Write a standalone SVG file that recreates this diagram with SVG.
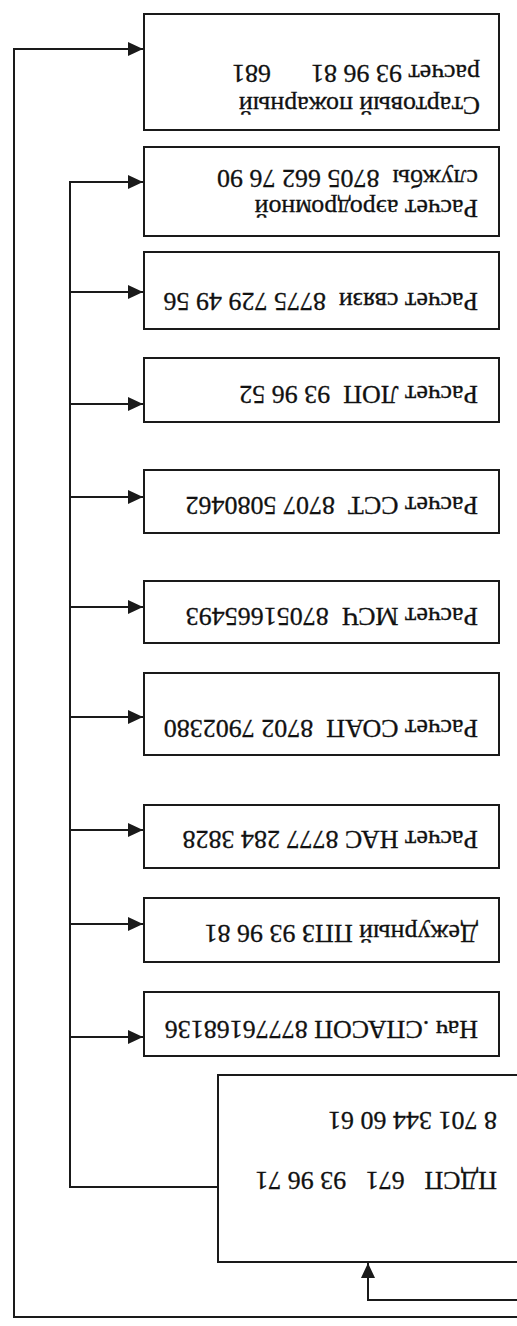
<svg xmlns="http://www.w3.org/2000/svg" width="517" height="1326" viewBox="0 0 517 1326" xml:space="preserve">
<style>
.box{fill:#fff;stroke:#1a1a1a;stroke-width:2}
.ln{fill:none;stroke:#1a1a1a;stroke-width:2}
.arr{fill:none;stroke:#1a1a1a;stroke-width:2;marker-end:url(#ah)}
.t{font-family:"Liberation Serif","Times New Roman",serif;font-size:26px;fill:#111;stroke:#111;stroke-width:0.3;white-space:pre}
</style>
<defs>
<marker id="ah" markerWidth="16" markerHeight="14" refX="15" refY="7" orient="auto" markerUnits="userSpaceOnUse">
<path d="M0,0 L15,7 L0,14 Z" fill="#1a1a1a"/>
</marker>
</defs>
<rect width="517" height="1326" fill="#fff"/>
<g id="connectors">
<polyline class="arr" points="517,1317 14,1317 14,49 143,49"/>
<polyline class="arr" points="517,1300 368,1300 368,1263"/>
<polyline class="arr" points="218,1187 70,1187 70,182 143,182"/>
<line class="arr" x1="70" y1="292" x2="143" y2="292"/>
<line class="arr" x1="70" y1="404" x2="143" y2="404"/>
<line class="arr" x1="70" y1="497" x2="143" y2="497"/>
<line class="arr" x1="70" y1="607" x2="143" y2="607"/>
<line class="arr" x1="70" y1="717" x2="143" y2="717"/>
<line class="arr" x1="70" y1="830" x2="143" y2="830"/>
<line class="arr" x1="70" y1="924" x2="143" y2="924"/>
<line class="arr" x1="70" y1="1037" x2="143" y2="1037"/>
</g>
<g id="n1">
<rect class="box" x="144" y="14" width="355" height="116"/>
<text class="t" transform="rotate(180 480 97)"><tspan x="480" y="97">Стартовый пожарный</tspan><tspan x="480" y="129">расчет 93 96 81</tspan><tspan x="689" y="129">681</tspan></text>
</g>
<g id="n2">
<rect class="box" x="144" y="147" width="355" height="89"/>
<text class="t" transform="rotate(180 478 200)"><tspan x="478" y="200">Расчет аэродромной</tspan><tspan x="478" y="230">службы  8705 662 76 90</tspan></text>
</g>
<g id="n3">
<rect class="box" x="144" y="252" width="355" height="77"/>
<text class="t" transform="rotate(180 478 293)" x="478" y="293">Расчет связи  8775 729 49 56</text>
</g>
<g id="n4">
<rect class="box" x="144" y="358" width="355" height="64"/>
<text class="t" transform="rotate(180 478 386)" x="478" y="386">Расчет ЛОП  93 96 52</text>
</g>
<g id="n5">
<rect class="box" x="144" y="470" width="355" height="63"/>
<text class="t" transform="rotate(180 478 497)" x="478" y="497">Расчет ССТ  8707 5080462</text>
</g>
<g id="n6">
<rect class="box" x="144" y="581" width="355" height="62"/>
<text class="t" transform="rotate(180 478 608)" x="478" y="608">Расчет МСЧ  87051665493</text>
</g>
<g id="n7">
<rect class="box" x="144" y="673" width="355" height="82"/>
<text class="t" transform="rotate(180 478 720)" x="478" y="720">Расчет СОАП  8702 7902380</text>
</g>
<g id="n8">
<rect class="box" x="144" y="805" width="355" height="63"/>
<text class="t" transform="rotate(180 478 831)" x="478" y="831">Расчет НАС 8777 284 3828</text>
</g>
<g id="n9">
<rect class="box" x="144" y="898" width="355" height="64"/>
<text class="t" transform="rotate(180 478 925)" x="478" y="925">Дежурный ППЗ 93 96 81</text>
</g>
<g id="n10">
<rect class="box" x="144" y="992" width="355" height="64"/>
<text class="t" transform="rotate(180 478 1021)" x="478" y="1021">Нач .СПАСОП 87776168136</text>
</g>
<g id="n11">
<rect class="box" x="218" y="1075" width="310" height="187"/>
<text class="t" transform="rotate(180 497 1172)"><tspan x="497" y="1172">ПДСП   671   93 96 71</tspan><tspan x="497" y="1232">8 701 344 60 61</tspan></text>
</g>
</svg>
